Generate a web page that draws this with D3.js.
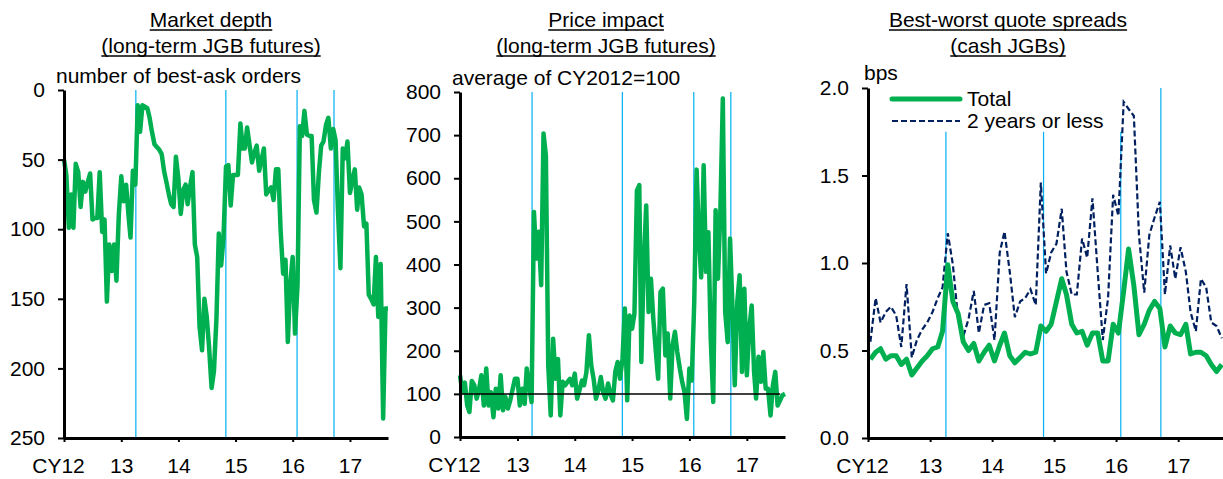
<!DOCTYPE html>
<html>
<head>
<meta charset="utf-8">
<script src="https://cdn.jsdelivr.net/npm/d3@7"></script>
<style>
body { margin: 0; background: #fff; }
text { font-family: "Liberation Sans", Arial, sans-serif; fill: #000; }
</style>
</head>
<body>
<svg id="chart" width="1223" height="479"></svg>
<script>
// ---- data ----
var yearTicks = ["2012-01-01", "2013-01-01", "2014-01-01", "2015-01-01", "2016-01-01", "2017-01-01"];
var yearLabels = ["CY12", "13", "14", "15", "16", "17"];
var eventDates = ["2013-04-04", "2014-10-31", "2016-01-29", "2016-09-21"];

// market depth, half-monthly from Jan 2012 (number of best-ask orders)
var depthValues = [
  50, 61, 99, 75, 99, 53, 59, 84, 66, 73,
  66, 60, 93, 92, 92, 59, 102, 93, 152, 111,
  130, 111, 137, 90, 62, 80, 68, 90, 106, 58,
  68, 11, 30, 11, 12, 13, 20, 30, 39, 41,
  43, 46, 58, 66, 75, 82, 84, 48, 64, 89,
  72, 68, 82, 70, 59, 111, 120, 170, 187, 150,
  163, 185, 214, 202, 164, 103, 126, 106, 55, 54,
  83, 61, 61, 61, 24, 42, 42, 27, 40, 52,
  45, 40, 58, 50, 42, 75, 72, 70, 79, 57,
  57, 101, 132, 122, 181, 140, 120, 175, 140, 26,
  33, 15, 32, 33, 33, 79, 88, 60, 40, 37,
  25, 20, 42, 28, 36, 86, 128, 42, 49, 37,
  74, 65, 57, 86, 70, 75, 98, 96, 147, 150,
  154, 120, 163, 125, 236, 157, 157
];

// price impact, half-monthly from Jan 2012 (average of CY2012 = 100)
var impactValues = [
  143, 104, 126, 73, 58, 130, 120, 89, 110, 143,
  73, 159, 73, 104, 46, 112, 66, 143, 62, 93,
  66, 85, 110, 135, 135, 73, 112, 77, 159, 120,
  81, 522, 414, 476, 352, 704, 653, 166, 50, 228,
  135, 181, 50, 128, 120, 128, 135, 120, 147, 89,
  110, 131, 120, 150, 236, 166, 135, 89, 110, 139,
  104, 89, 124, 100, 85, 151, 174, 135, 181, 298,
  85, 282, 251, 286, 572, 584, 174, 398, 537, 290,
  367, 275, 200, 135, 336, 344, 189, 240, 89, 213,
  244, 197, 159, 128, 104, 42, 159, 131, 313, 620,
  470, 370, 630, 383, 475, 228, 81, 526, 367, 520,
  785, 290, 220, 460, 305, 120, 313, 375, 151, 344,
  143, 250, 305, 151, 89, 186, 128, 197, 112, 112,
  50, 120, 151, 73, 85, 97, 100
];
var impactBase = 100;

// best-worst quote spreads, monthly from Jan 2012 (bps)
var spreadTotal = [
  0.45, 0.49, 0.51, 0.45, 0.47, 0.47, 0.42, 0.45, 0.36, 0.40,
  0.44, 0.47, 0.51, 0.52, 0.61, 0.99, 0.78, 0.71, 0.55, 0.50,
  0.54, 0.44, 0.49, 0.53, 0.44, 0.53, 0.60, 0.47, 0.43, 0.46,
  0.49, 0.48, 0.49, 0.64, 0.61, 0.65, 0.78, 0.91, 0.82, 0.65,
  0.60, 0.61, 0.53, 0.60, 0.60, 0.44, 0.44, 0.65, 0.60, 0.84,
  1.08, 0.87, 0.59, 0.65, 0.73, 0.78, 0.74, 0.52, 0.64, 0.60,
  0.59, 0.65, 0.48, 0.49, 0.49, 0.47, 0.42, 0.38, 0.42
];
var spread2y = [
  0.55, 0.80, 0.66, 0.72, 0.75, 0.70, 0.52, 0.88, 0.46, 0.56,
  0.62, 0.66, 0.72, 0.80, 0.86, 1.17, 0.99, 0.68, 0.58, 0.68,
  0.84, 0.60, 0.76, 0.77, 0.56, 1.06, 1.18, 0.95, 0.69, 0.78,
  0.80, 0.85, 0.76, 1.46, 0.94, 1.06, 1.11, 1.31, 0.95, 0.82,
  0.82, 1.14, 1.03, 1.37, 0.95, 0.56, 0.80, 1.39, 1.27, 1.92,
  1.88, 1.84, 1.16, 0.83, 1.16, 1.26, 1.35, 0.82, 1.10, 0.91,
  1.09, 0.95, 0.72, 0.61, 0.91, 0.86, 0.66, 0.64, 0.57
];
var spreadEventTops = [1.75, 1.75, 1.75, 2.0];

var green = "#00B050";
var navy = "#002060";
var eventBlue = "#00B0F0";
var fontSize = "21px";

// dates for each series
function halfMonth(i) { return new Date(2012, Math.floor(i / 2), i % 2 ? 16 : 1); }
function midMonth(i) { return new Date(2012, i, 15); }
var parse = d3.timeParse("%Y-%m-%d");

const svg = d3.select("#chart");

function styleAxis(g) {
    g.select(".domain").attr("stroke", "#000").attr("stroke-width", 3);
    g.selectAll(".tick line").attr("stroke", "#000").attr("stroke-width", 2);
    g.selectAll("text")
        .style("font-size", fontSize)
        .attr("fill", "#000")
        .style("font-family", '"Liberation Sans", Arial, sans-serif');
}

function title(cx, lines) {
    lines.forEach(function (t, i) {
        var by = 27 + i * 26;
        var txt = svg.append("text")
            .attr("x", cx)
            .attr("y", by)
            .attr("text-anchor", "middle")
            .style("font-size", fontSize)
            .text(t);
        var bb = txt.node().getBBox();
        svg.append("line")
            .attr("x1", bb.x).attr("x2", bb.x + bb.width)
            .attr("y1", by + 3).attr("y2", by + 3)
            .attr("stroke", "#000").attr("stroke-width", 1.4);
    });
}

// builds the axes and event lines for one panel, returns scales
function panel(opts) {
    const x = d3.scaleTime().domain([parse("2012-01-01"), opts.end]).range(opts.xr);
    const y = d3.scaleLinear().domain(opts.yd).range(opts.yr);
    const g = svg.append("g");

    // event lines (drawn first, behind series)
    g.selectAll(".event")
        .data(eventDates)
        .join("line")
        .attr("class", "event")
        .attr("x1", d => x(parse(d))).attr("x2", d => x(parse(d)))
        .attr("y1", (d, i) => y(opts.eventTop ? opts.eventTop[i] : opts.yd[1]))
        .attr("y2", y(opts.yd[0]))
        .attr("stroke", eventBlue)
        .attr("stroke-width", 1.2);

    const xAxis = d3.axisBottom(x)
        .tickValues(yearTicks.map(parse))
        .tickFormat((d, i) => yearLabels[i])
        .tickSize(4)
        .tickSizeOuter(0)
        .tickPadding(16);
    const xg = g.append("g")
        .attr("transform", `translate(0,${opts.xAxisY})`)
        .call(xAxis);
    styleAxis(xg);
    xg.select(".tick text").attr("dx", "-6");

    const yAxis = d3.axisLeft(y)
        .tickValues(opts.yTicks)
        .tickFormat(opts.fmt)
        .tickSize(6)
        .tickSizeOuter(0)
        .tickPadding(13);
    const yg = g.append("g")
        .attr("transform", `translate(${opts.xr[0]},0)`)
        .call(yAxis);
    styleAxis(yg);

    return { x: x, y: y, g: g };
}

// ---- panel 1: market depth ----
title(211, ["Market depth", "(long-term JGB futures)"]);
svg.append("text").attr("x", 56).attr("y", 83).style("font-size", fontSize).text("number of best-ask orders");

const p1 = panel({
    end: parse("2017-09-01"), xr: [64, 388],
    yd: [0, 250], yr: [90, 438], xAxisY: 438,
    yTicks: [0, 50, 100, 150, 200, 250], fmt: d3.format("d")
});
p1.g.insert("path", "g")
    .datum(depthValues)
    .attr("fill", "none")
    .attr("stroke", green)
    .attr("stroke-width", 4.5)
    .attr("stroke-linejoin", "round")
    .attr("d", d3.line().x((d, i) => p1.x(halfMonth(i))).y(d => p1.y(d)));

// ---- panel 2: price impact ----
title(606, ["Price impact", "(long-term JGB futures)"]);
svg.append("text").attr("x", 452).attr("y", 85).style("font-size", fontSize).text("average of CY2012=100");

const p2 = panel({
    end: parse("2017-09-01"), xr: [460, 785],
    yd: [0, 800], yr: [437, 92], xAxisY: 437,
    yTicks: d3.range(0, 801, 100), fmt: d3.format("d")
});
p2.g.insert("path", "g")
    .datum(impactValues)
    .attr("fill", "none")
    .attr("stroke", green)
    .attr("stroke-width", 4.5)
    .attr("stroke-linejoin", "round")
    .attr("d", d3.line().x((d, i) => p2.x(halfMonth(i))).y(d => p2.y(d)));
p2.g.insert("line", "g")
    .attr("x1", p2.x(halfMonth(0))).attr("x2", p2.x(halfMonth(impactValues.length - 3)))
    .attr("y1", p2.y(impactBase)).attr("y2", p2.y(impactBase))
    .attr("stroke", "#000").attr("stroke-width", 1.5);

// ---- panel 3: best-worst quote spreads ----
title(1008, ["Best-worst quote spreads", "(cash JGBs)"]);
svg.append("text").attr("x", 864).attr("y", 80).style("font-size", fontSize).text("bps");

const p3 = panel({
    end: parse("2017-09-22"), xr: [868, 1223],
    yd: [0, 2], yr: [438, 88], xAxisY: 438,
    yTicks: [0, 0.5, 1, 1.5, 2], fmt: d3.format(".1f"),
    eventTop: spreadEventTops
});
const line3 = d3.line().x((d, i) => p3.x(midMonth(i))).y(d => p3.y(d));
p3.g.insert("path", "g")
    .datum(spread2y)
    .attr("fill", "none")
    .attr("stroke", navy)
    .attr("stroke-width", 2.2)
    .attr("stroke-dasharray", "6,3")
    .attr("d", line3);
p3.g.insert("path", "g")
    .datum(spreadTotal)
    .attr("fill", "none")
    .attr("stroke", green)
    .attr("stroke-width", 5)
    .attr("stroke-linejoin", "round")
    .attr("d", line3);

// legend
const legend = svg.append("g");
legend.append("line").attr("x1", 892).attr("x2", 960).attr("y1", 99).attr("y2", 99)
    .attr("stroke", green).attr("stroke-width", 5).attr("stroke-linecap", "round");
legend.append("text").attr("x", 967).attr("y", 106).style("font-size", fontSize).text("Total");
legend.append("line").attr("x1", 892).attr("x2", 960).attr("y1", 121).attr("y2", 121)
    .attr("stroke", navy).attr("stroke-width", 2.2).attr("stroke-dasharray", "6,3");
legend.append("text").attr("x", 967).attr("y", 128).style("font-size", fontSize).text("2 years or less");
</script>
</body>
</html>
